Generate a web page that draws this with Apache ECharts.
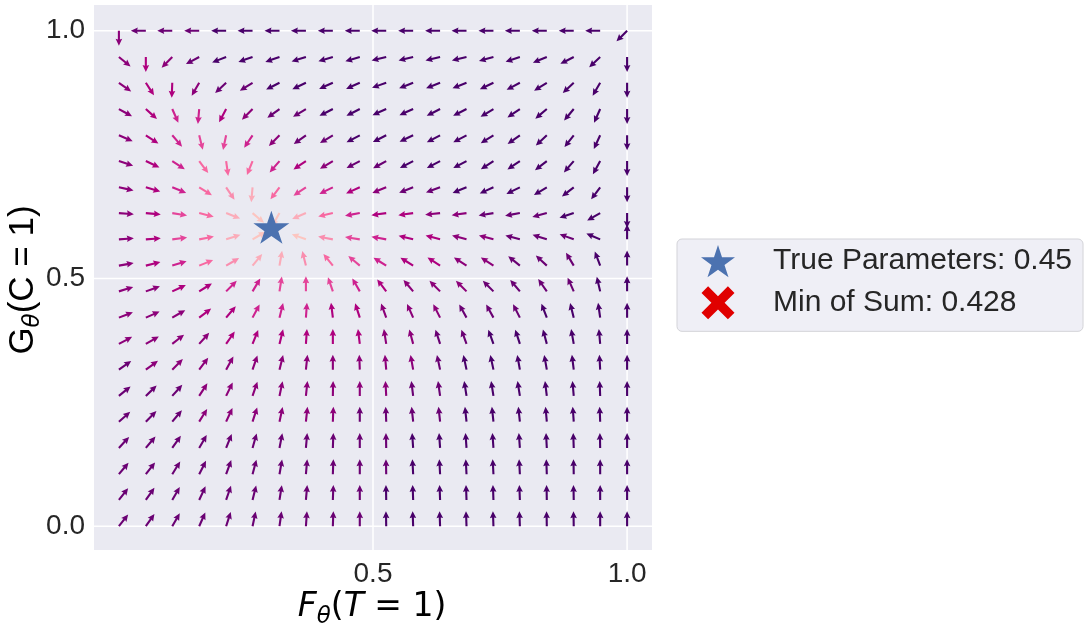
<!DOCTYPE html>
<html>
<head>
<meta charset="utf-8">
<title>Gradient field</title>
<script src="https://cdn.jsdelivr.net/npm/echarts@6/dist/echarts.min.js"></script>
<style>
  html, body { margin: 0; padding: 0; background: #fff; }
  #chart { width: 1090px; height: 630px; }
</style>
</head>
<body>
<div id="chart"></div>
<script>
// arrow tail positions, same steps on both axes
const gridSteps = [0, 0.053, 0.105, 0.158, 0.211, 0.263, 0.316, 0.368, 0.421, 0.474,
  0.526, 0.579, 0.632, 0.684, 0.737, 0.789, 0.842, 0.895, 0.947, 1];

// arrow direction in degrees (0 = right, 90 = up), bottom row first
const arrowAngles = [
  [52, 55, 60, 66, 72, 78, 82, 86, 88, 90, 91, 92, 92, 92, 92, 92, 91, 91, 90, 90],
  [52, 55, 60, 65, 71, 76, 81, 85, 88, 90, 91, 92, 92, 92, 92, 92, 91, 91, 90, 90],
  [50, 52, 58, 63, 70, 75, 80, 85, 88, 90, 91, 93, 93, 93, 93, 93, 92, 91, 90, 90],
  [47, 50, 55, 60, 68, 74, 79, 85, 88, 90, 91, 94, 94, 94, 94, 94, 93, 92, 91, 90],
  [41, 45, 50, 58, 65, 72, 78, 84, 88, 90, 92, 96, 96, 96, 96, 96, 95, 94, 92, 90],
  [39, 44, 48, 57, 64, 71, 78, 84, 89, 90, 93, 97, 98, 99, 99, 99, 97, 95, 92, 90],
  [35, 36, 45, 53, 61, 71, 76, 84, 90, 92, 95, 100, 102, 102, 102, 100, 100, 97, 93, 90],
  [28, 30, 38, 48, 55, 68, 76, 86, 90, 97, 99, 105, 108, 110, 110, 108, 105, 100, 95, 90],
  [21, 24, 30, 37, 50, 62, 76, 86, 97, 108, 110, 114, 117, 119, 119, 117, 111, 104, 98, 90],
  [17, 20, 25, 32, 45, 59, 81, 90, 109, 120, 127, 130, 135, 135, 135, 130, 125, 114, 103, 90],
  [10, 14, 17, 22, 30, 50, 80, 104, 129, 140, 148, 148, 147, 147, 147, 141, 137, 121, 111, 90],
  [4, 4, 7, 11, 18, 30, 130, 160, 169, 171, 170, 166, 165, 165, 165, 165, 162, 160, 157, 90],
  [-4, -5, -9, -14, -21, -40, -120, -157, -167, -170, -172, -172, -174, -172, -171, -170, -165, -162, -150, -90],
  [-12, -16, -22, -32, -56, -95, -127, -146, -154, -156, -158, -159, -160, -158, -156, -154, -149, -142, -127, -90],
  [-18, -25, -33, -53, -82, -112, -131, -146, -149, -152, -151, -152, -152, -152, -147, -146, -142, -131, -119, -90],
  [-23, -33, -49, -76, -102, -124, -135, -144, -149, -152, -153, -155, -152, -152, -148, -145, -137, -128, -115, -90],
  [-29, -42, -66, -95, -118, -135, -144, -149, -153, -153, -156, -156, -153, -153, -149, -146, -140, -130, -114, -90],
  [-35, -57, -92, -120, -137, -148, -153, -155, -156, -156, -161, -159, -159, -159, -155, -152, -148, -137, -120, -90],
  [-39, -90, -135, -152, -159, -161, -161, -163, -164, -164, -167, -167, -167, -167, -165, -162, -158, -153, -137, -90],
  [-90, 180, 180, 180, 180, 180, 180, 180, 180, 180, 180, 180, 180, 180, 180, 180, 180, 180, 180, -135]
];

// colour level of each arrow (0 lightest .. 9 darkest), bottom row first
const arrowShades = [
  "88888888889999999999",
  "88888888889999999999",
  "88888888888999999999",
  "88888888888999999999",
  "88877777788889999999",
  "88877777777889999999",
  "87777777777789999999",
  "77776666667788999999",
  "77766555667778889999",
  "77665544456777888899",
  "76532112345667788899",
  "76431000245667788899",
  "76431001356677888999",
  "76532134567889999999",
  "76533356788999999999",
  "76544578899999999999",
  "76556788999999999999",
  "76678899999999999999",
  "76789999999999999999",
  "78889999999999999999"
];
const shadeColors = ["#fcc5c0", "#fbacb9", "#f98dae", "#f768a1", "#e4459a",
  "#cd228f", "#ae017e", "#8c0179", "#6a0173", "#49006a"];

const truePoint = [[0.3, 0.6]];
const minOfSumPoint = [];
const xTickValues = [0.5, 1.0];
const yTickValues = [0.0, 0.5, 1.0];

const STAR = "path://M50 0 L61.23 34.55 L97.55 34.55 L68.17 55.9 L79.39 90.45 L50 69.1 L20.61 90.45 L31.83 55.9 L2.45 34.55 L38.77 34.55 Z";
const CROSS = "path://M0 20 L20 0 L50 30 L80 0 L100 20 L70 50 L100 80 L80 100 L50 70 L20 100 L0 80 L30 50 Z";

// arrow outline in px, tail at origin pointing along +u
const ARROW_LEN = 15, SHAFT_W = 2.1, HEAD_LEN = 7, HEAD_W = 6.6, HEAD_AXIS = 6.3;
const arrowShape = [
  [0, -SHAFT_W / 2], [ARROW_LEN - HEAD_AXIS, -SHAFT_W / 2], [ARROW_LEN - HEAD_LEN, -HEAD_W / 2],
  [ARROW_LEN, 0], [ARROW_LEN - HEAD_LEN, HEAD_W / 2], [ARROW_LEN - HEAD_AXIS, SHAFT_W / 2], [0, SHAFT_W / 2]
];

const arrowData = [];
arrowAngles.forEach((row, r) => {
  row.forEach((ang, c) => {
    arrowData.push([gridSteps[c], gridSteps[r], ang, +arrowShades[r][c]]);
  });
});
const gridLineData = xTickValues.map(v => [0, v]).concat(yTickValues.map(v => [1, v]));

const textColor = "#262626";
const sansFont = "'Liberation Sans', Arial, sans-serif";
const mathFont = "'DejaVu Sans', sans-serif";
const mathRich = {
  i: { fontFamily: mathFont, fontSize: 33, fontStyle: "italic", color: textColor },
  n: { fontFamily: mathFont, fontSize: 33, color: textColor },
  s: { fontFamily: mathFont, fontSize: 23, fontStyle: "italic", color: textColor, padding: [20, 0, 0, 0] }
};
const yTitleRich = {
  n: { fontFamily: sansFont, fontSize: 35, color: textColor },
  s: { fontFamily: mathFont, fontSize: 23, fontStyle: "italic", color: textColor, padding: [20, 0, 0, 0] }
};

const chart = echarts.init(document.getElementById("chart"));

chart.setOption({
  animation: false,
  backgroundColor: "#ffffff",
  grid: {
    left: 94, right: 438, top: 5, bottom: 80,
    show: true, backgroundColor: "#eaeaf2", borderWidth: 0
  },
  xAxis: {
    type: "value", min: -0.049, max: 1.049,
    axisLine: { show: false }, axisTick: { show: false }, splitLine: { show: false },
    axisLabel: {
      customValues: xTickValues, formatter: v => v.toFixed(1),
      fontSize: 28, color: textColor, fontFamily: sansFont, margin: 10
    }
  },
  yAxis: {
    type: "value", min: -0.048, max: 1.052,
    axisLine: { show: false }, axisTick: { show: false }, splitLine: { show: false },
    axisLabel: {
      customValues: yTickValues, formatter: v => v.toFixed(1),
      fontSize: 28, color: textColor, fontFamily: sansFont, margin: 9
    }
  },
  legend: {
    orient: "vertical", left: 677, top: 239,
    padding: [6, 11, 12, 24], itemWidth: 34, itemHeight: 33, itemGap: 9,
    backgroundColor: "rgba(238,238,245,0.95)", borderColor: "#d3d3d8", borderWidth: 1, borderRadius: 5,
    textStyle: { fontSize: 30, color: textColor, fontFamily: sansFont, padding: [0, 0, 0, 33] },
    data: [
      { name: "True Parameters: 0.45", icon: STAR },
      { name: "Min of Sum: 0.428", icon: CROSS }
    ]
  },
  graphic: [
    {
      type: "text", x: 372, y: 607,
      style: { text: "{i|F}{s|θ}{n|(}{i|T}{n| = 1)}", rich: mathRich, align: "center", verticalAlign: "middle" }
    },
    {
      type: "text", x: 23, y: 280, rotation: Math.PI / 2,
      style: { text: "{n|G}{s|θ}{n|(C = 1)}", rich: yTitleRich, align: "center", verticalAlign: "middle" }
    }
  ],
  series: [
    {
      type: "custom", name: "grid lines", z: 1, silent: true,
      data: gridLineData,
      renderItem(params, api) {
        const cs = params.coordSys;
        const v = api.value(1);
        if (api.value(0) === 0) {
          const x = api.coord([v, 0])[0];
          return { type: "line", shape: { x1: x, y1: cs.y, x2: x, y2: cs.y + cs.height },
            style: { stroke: "#ffffff", lineWidth: 1.5 } };
        }
        const y = api.coord([0, v])[1];
        return { type: "line", shape: { x1: cs.x, y1: y, x2: cs.x + cs.width, y2: y },
          style: { stroke: "#ffffff", lineWidth: 1.5 } };
      }
    },
    {
      type: "custom", name: "field", z: 2, silent: true, clip: false,
      encode: { x: 0, y: 1 },
      data: arrowData,
      renderItem(params, api) {
        const p = api.coord([api.value(0), api.value(1)]);
        const a = api.value(2) * Math.PI / 180;
        const c = Math.cos(a), s = -Math.sin(a);
        const pts = arrowShape.map(([u, w]) => [p[0] + u * c - w * s, p[1] + u * s + w * c]);
        return { type: "polygon", shape: { points: pts }, style: { fill: shadeColors[api.value(3)] } };
      }
    },
    {
      type: "scatter", name: "True Parameters: 0.45", z: 5,
      data: truePoint, symbol: STAR, symbolSize: [36, 33], symbolOffset: [0, -1.7],
      itemStyle: { color: "#4c72b0", opacity: 1 }
    },
    {
      type: "scatter", name: "Min of Sum: 0.428", z: 4,
      data: minOfSumPoint, symbol: CROSS, symbolSize: 30,
      itemStyle: { color: "#e00000", opacity: 1 }
    }
  ]
});
</script>
</body>
</html>
